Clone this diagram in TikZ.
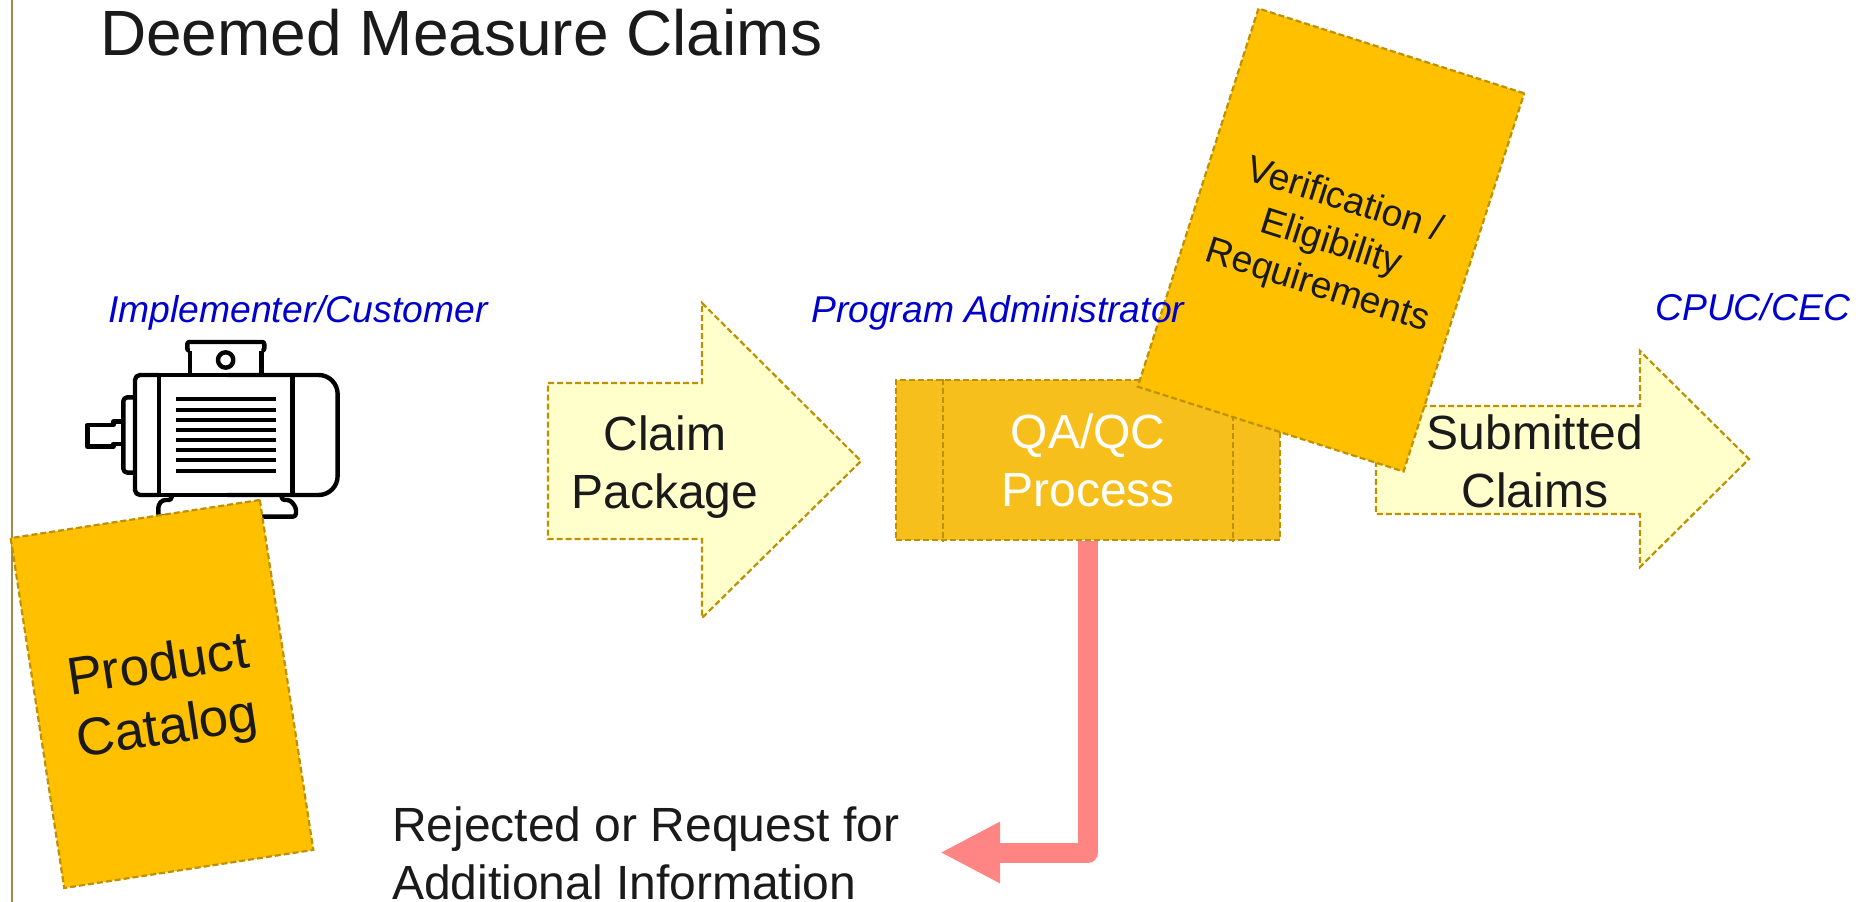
\documentclass[tikz,border=0pt]{standalone}
\usepackage{fontspec}
\setmainfont{Liberation Sans}
\usetikzlibrary{arrows.meta}
\definecolor{dashbrown}{HTML}{BF9000}
\definecolor{amber}{HTML}{FFC000}
\definecolor{qafill}{HTML}{F7BF1B}
\definecolor{paleyellow}{HTML}{FFFFCC}
\definecolor{rejectred}{HTML}{FF8585}
\definecolor{rolemark}{HTML}{0000CC}
\definecolor{inkblack}{HTML}{1A1A1A}
\definecolor{sideline}{HTML}{A08850}
\tikzset{
  dashedge/.style={draw=dashbrown,line width=2.2pt,dash pattern=on 6pt off 3pt},
  bigtext/.style={font=\fontsize{48}{58}\selectfont,text=inkblack,align=center,inner sep=0pt},
  roletext/.style={font=\fontsize{37.3}{44}\selectfont\itshape,text=rolemark,inner sep=0pt,anchor=base west},
  tiltbox/.style={dashedge,fill=amber,inner sep=0pt},
  tilttext/.style={inner sep=0pt,align=center,text=inkblack},
  flowarrow/.style={dashedge,fill=paleyellow},
  motorline/.style={draw=black,line width=4.4pt,line join=round},
  vent/.style={draw=black,line width=4.2pt},
}
\begin{document}
\begin{tikzpicture}[x=1pt,y=-1pt]
\useasboundingbox (0,0) rectangle (1864,902);
\fill[white] (0,0) rectangle (1864,902);
\draw[sideline,line width=2pt] (12,0) -- (12,902);
\node[font=\fontsize{64}{77}\selectfont,text=inkblack,inner sep=0pt,anchor=base west] (title) at (100,55) {Deemed Measure Claims};
% motor
\begin{scope}[shift={(60,320)},x=0.3333pt,y=-0.3333pt]
  \draw[motorline,rounded corners=5pt] (297,165) -- (225,165) -- (225,525) -- (297,525);
  \draw[motorline] (297,165) -- (500,165);
  \draw[motorline] (297,525) -- (500,525);
  \draw[motorline] (297,165) -- (297,525);
  \draw[motorline] (697,165) -- (697,525);
  \draw[motorline,rounded corners=19pt] (500,165) -- (833,165) -- (833,525) -- (500,525);
  \draw[motorline] (390,165) -- (390,92);
  \draw[motorline] (604,165) -- (604,92);
  \draw[motorline,rounded corners=2pt] (390,92) -- (382,92) -- (382,66) -- (613,66) -- (613,92) -- (604,92);
  \draw[motorline] (497,120) circle[radius=23];
  \draw[motorline,rounded corners=4pt] (225,232) -- (190,232) -- (190,458) -- (225,458);
  \draw[motorline] (190,305) -- (160,305) -- (160,315) -- (82,315) -- (82,380) -- (160,380) -- (160,372) -- (190,372);
  \foreach \vy in {238,269,300,330,360,391,421,452} \draw[vent] (347,\vy) -- (647,\vy);
  \draw[motorline,rounded corners=3pt] (335,525) -- (335,540) -- (308,540) -- (295,555) -- (295,590) -- (708,590) -- (708,562) -- (690,540) -- (665,540) -- (665,525);
\end{scope}
\node[tiltbox,minimum width=252pt,minimum height=354pt,rotate=8.7] (catalog) at (162,694) {};
\node[tilttext,rotate=8.7,font=\fontsize{53}{63}\selectfont] (catalogtext) at (163,699) {Product\\Catalog};
% claim package arrow
\draw[flowarrow] (548,383) -- (702,383) -- (702,303) -- (861,461) -- (702,618) -- (702,539) -- (548,539) -- cycle;
\node[bigtext] (claim) at (665,467) {Claim\\Package};
% submitted claims arrow
\draw[flowarrow] (1376,406) -- (1640,406) -- (1640,351) -- (1749,459) -- (1640,567) -- (1640,514) -- (1376,514) -- cycle;
\node[bigtext] (submitted) at (1535,461) {Submitted\\Claims};
% rejection connector
\coordinate (rejend) at (940,852.5);
\node[dashedge,fill=qafill,minimum width=384pt,minimum height=160pt,inner sep=0pt,font=\fontsize{48}{58}\selectfont,text=white,align=center] (qa) at (1088,460) {QA/QC\\Process};
\draw[rejectred,line width=20pt,line join=round,-{Triangle[length=60pt,width=57pt]}] (qa.south) |- (rejend);
\draw[dashedge] ([xshift=48pt]qa.north west) -- ([xshift=48pt]qa.south west);
\draw[dashedge] ([xshift=-48pt]qa.north east) -- ([xshift=-48pt]qa.south east);
\node[tiltbox,minimum width=279pt,minimum height=397pt,rotate=-17.7] (verify) at (1331,240) {};
\node[tilttext,rotate=-17.7,font=\fontsize{37.3}{45}\selectfont] (verifytext) at (1331,244) {Verification /\\Eligibility\\Requirements};
\node[roletext] (impl) at (108,322) {Implementer/Customer};
\node[roletext] (admin) at (811,322) {Program Administrator};
\node[roletext] (cpuc) at (1655,320) {CPUC/CEC};
\node[bigtext,align=left,anchor=west] (rejected) at (392,853) {Rejected or Request for\\Additional Information};
\end{tikzpicture}
\end{document}
